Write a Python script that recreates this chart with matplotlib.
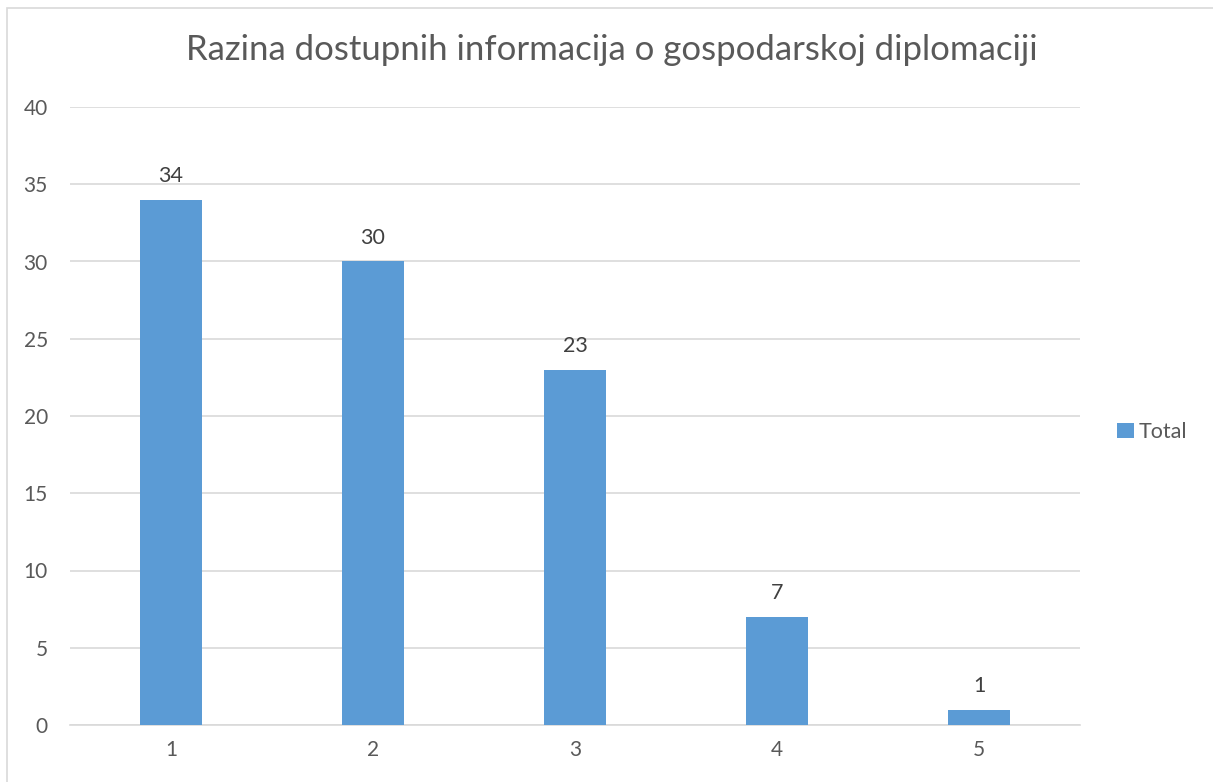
import matplotlib
matplotlib.use("Agg")
import matplotlib.pyplot as plt
from matplotlib.patches import Rectangle

categories = ["1", "2", "3", "4", "5"]
values = [34, 30, 23, 7, 1]
series_name = "Total"
title = "Razina dostupnih informacija o gospodarskoj diplomaciji"

plt.rcParams['font.family'] = ['Lato', 'DejaVu Sans']
grey = "#595959"

fig = plt.figure(figsize=(12.13, 7.82), dpi=100)
ax = fig.add_axes([70 / 1213, 1 - 725 / 782, 1010 / 1213, 618 / 782])

x = list(range(1, len(categories) + 1))
bars = ax.bar(x, values, width=0.31, color="#5b9bd5", label=series_name, zorder=3)
for xi, v in zip(x, values):
    ax.annotate(str(v), (xi, v), xytext=(0, 10), textcoords="offset points",
                ha="center", va="bottom", fontsize=15.5, color="#404040")

ax.set_xlim(0.5, len(categories) + 0.5)
ax.set_ylim(0, 40)
ax.set_yticks(range(0, 41, 5))
ax.set_xticks(x)
ax.set_xticklabels(categories)
ax.grid(axis="y", color="#d9d9d9", linewidth=1.2, zorder=0)
for s in ["left", "right", "top"]:
    ax.spines[s].set_visible(False)
ax.spines["bottom"].set_color("#d9d9d9")
ax.spines["bottom"].set_linewidth(1.2)
ax.tick_params(length=0, labelsize=15, colors=grey)
ax.tick_params(axis="y", pad=16)
ax.tick_params(axis="x", pad=11)

fig.suptitle(title, x=612 / 1213, y=1 - 50 / 782, va="center", fontsize=25, color=grey)
fig.legend(handles=[bars], loc="center left", bbox_to_anchor=(1098 / 1213, 1 - 432 / 782),
           frameon=False, fontsize=15.5, handlelength=0.75, handleheight=0.75,
           handletextpad=0.25, labelcolor=grey)

fig.add_artist(Rectangle((7 / 1213, -0.1), 1.2, 1 - 8 / 782 + 0.1, transform=fig.transFigure,
                         fill=False, edgecolor="#d9d9d9", linewidth=1.2))

fig.savefig("out.png", dpi=100)
